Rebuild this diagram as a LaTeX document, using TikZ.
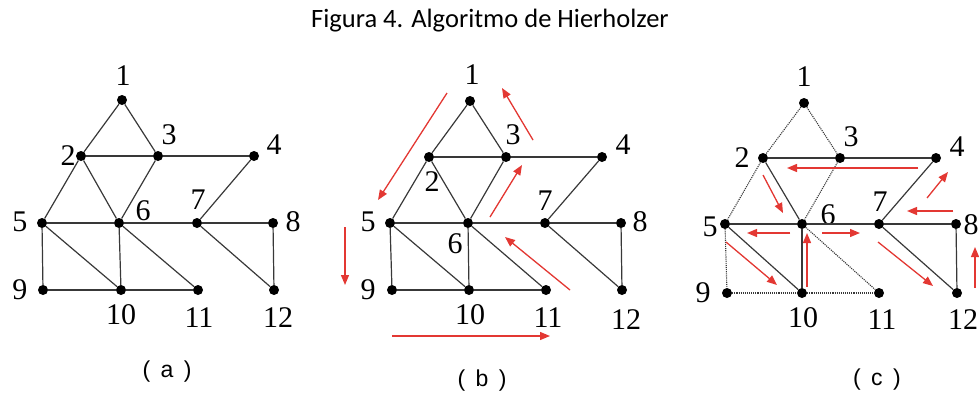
\documentclass[tikz,border=0pt]{standalone}
\usepackage{fontspec}
\setmainfont{Liberation Serif}
\newfontfamily\capfont{Liberation Sans}
\newfontfamily\titlefont{Carlito}
\usepackage{tikz}
\usetikzlibrary{arrows.meta}
\definecolor{ed}{rgb}{0.22,0.22,0.22}
\definecolor{ar}{rgb}{0.89,0.22,0.20}

\begin{document}
\begin{tikzpicture}[
  x=1pt, y=-1pt,
  %% vertex and label styles
  vtx/.style   = {circle, fill=black, inner sep=0pt, minimum size=10pt},
  num/.style   = {inner sep=0pt, font=\fontsize{30}{30}\selectfont},
  panel/.style = {inner sep=0pt, font=\capfont\fontsize{23}{23}\selectfont},
  %% edges
  link/.style  = {draw=ed, line width=1.2pt},
  gone/.style  = {draw=ed, line width=1.1pt, densely dotted},
  %% red arrows
  rarr/.style  = {-{Triangle[length=10pt,width=8pt]}, draw=ar, fill=ar,
                  line width=1.3pt}
]
\useasboundingbox (0,0) rectangle (979,392);

%% ---- Title ----
\node[inner sep=0pt, font=\titlefont\fontsize{26.5}{26.5}\selectfont] (TIT)
  at (490,21) {Figura 4. Algoritmo de Hierholzer};

%% ---- (a) vertices ----
\node[vtx] (a1)  at (122,100) {};
\node[vtx] (a2)  at (81,156)  {};
\node[vtx] (a3)  at (158,156) {};
\node[vtx] (a4)  at (254,156) {};
\node[vtx] (a5)  at (42,223)  {};
\node[vtx] (a6)  at (119,223) {};
\node[vtx] (a7)  at (197,223) {};
\node[vtx] (a8)  at (273,223) {};
\node[vtx] (a9)  at (43,290)  {};
\node[vtx] (a10) at (121,290) {};
\node[vtx] (a11) at (198,290) {};
\node[vtx] (a12) at (274,290) {};

%% ---- (a) labels ----
\node[num] (la1)  at (123,76)  {1};
\node[num] (la2)  at (68,156)  {2};
\node[num] (la3)  at (169,135) {3};
\node[num] (la4)  at (274,145) {4};
\node[num] (la5)  at (20,222)  {5};
\node[num] (la6)  at (143,211) {6};
\node[num] (la7)  at (198,200) {7};
\node[num] (la8)  at (293,222) {8};
\node[num] (la9)  at (20,290)  {9};
\node[num] (la10) at (121,315) {10};
\node[num] (la11) at (199,318) {11};
\node[num] (la12) at (278,318) {12};
\node[panel] (capa) at (167,372) {(\hspace{4pt} a \hspace{4pt})};

%% ---- (a) edges ----
\draw[link] (a1) -- (a2);
\draw[link] (a1) -- (a3);
\draw[link] (a2) -- (a3);
\draw[link] (a3) -- (a4);
\draw[link] (a2) -- (a5);
\draw[link] (a2) -- (a6);
\draw[link] (a3) -- (a6);
\draw[link] (a4) -- (a7);
\draw[link] (a5) -- (a6);
\draw[link] (a6) -- (a7);
\draw[link] (a7) -- (a8);
\draw[link] (a5) -- (a9);
\draw[link] (a5) -- (a10);
\draw[link] (a6) -- (a10);
\draw[link] (a6) -- (a11);
\draw[link] (a7) -- (a12);
\draw[link] (a8) -- (a12);
\draw[link] (a9) -- (a10);
\draw[link] (a10) -- (a11);

%% ---- (b) vertices ----
\node[vtx] (b1)  at (470,101) {};
\node[vtx] (b2)  at (429,157) {};
\node[vtx] (b3)  at (506,157) {};
\node[vtx] (b4)  at (602,157) {};
\node[vtx] (b5)  at (390,223) {};
\node[vtx] (b6)  at (468,223) {};
\node[vtx] (b7)  at (545,223) {};
\node[vtx] (b8)  at (621,223) {};
\node[vtx] (b9)  at (392,290) {};
\node[vtx] (b10) at (469,290) {};
\node[vtx] (b11) at (546,290) {};
\node[vtx] (b12) at (622,290) {};

%% ---- (b) labels ----
\node[num] (lb1)  at (472,75)  {1};
\node[num] (lb2)  at (432,182) {2};
\node[num] (lb3)  at (513,135) {3};
\node[num] (lb4)  at (623,145) {4};
\node[num] (lb5)  at (368,222) {5};
\node[num] (lb6)  at (455,244) {6};
\node[num] (lb7)  at (545,201) {7};
\node[num] (lb8)  at (640,222) {8};
\node[num] (lb9)  at (368,290) {9};
\node[num] (lb10) at (470,315) {10};
\node[num] (lb11) at (548,318) {11};
\node[num] (lb12) at (626,320) {12};
\node[panel] (capb) at (482,381) {(\hspace{4pt} b \hspace{4pt})};

%% ---- (b) edges ----
\draw[link] (b1) -- (b2);
\draw[link] (b1) -- (b3);
\draw[link] (b2) -- (b3);
\draw[link] (b3) -- (b4);
\draw[link] (b2) -- (b5);
\draw[link] (b2) -- (b6);
\draw[link] (b3) -- (b6);
\draw[link] (b4) -- (b7);
\draw[link] (b5) -- (b6);
\draw[link] (b6) -- (b7);
\draw[link] (b7) -- (b8);
\draw[link] (b5) -- (b9);
\draw[link] (b5) -- (b10);
\draw[link] (b6) -- (b10);
\draw[link] (b6) -- (b11);
\draw[link] (b7) -- (b12);
\draw[link] (b8) -- (b12);
\draw[link] (b9) -- (b10);
\draw[link] (b10) -- (b11);

%% ---- (b) walk arrows ----
\coordinate (pb1s) at (447,93);   \coordinate (pb1e) at (378,200);
\coordinate (pb2s) at (533,140);  \coordinate (pb2e) at (502,88);
\coordinate (pb3s) at (345,227);  \coordinate (pb3e) at (345,285);
\coordinate (pb4s) at (490,217);  \coordinate (pb4e) at (522,165);
\coordinate (pb5s) at (570,290);  \coordinate (pb5e) at (505,237);
\coordinate (pb6s) at (392,336);  \coordinate (pb6e) at (550,336);
\draw[rarr] (pb1s) -- (pb1e);
\draw[rarr] (pb2s) -- (pb2e);
\draw[rarr] (pb3s) -- (pb3e);
\draw[rarr] (pb4s) -- (pb4e);
\draw[rarr] (pb5s) -- (pb5e);
\draw[rarr] (pb6s) -- (pb6e);

%% ---- (c) vertices ----
\node[vtx] (c1)  at (804,103) {};
\node[vtx] (c2)  at (763,158) {};
\node[vtx] (c3)  at (840,158) {};
\node[vtx] (c4)  at (936,158) {};
\node[vtx] (c5)  at (725,224) {};
\node[vtx] (c6)  at (802,224) {};
\node[vtx] (c7)  at (879,224) {};
\node[vtx] (c8)  at (956,224) {};
\node[vtx] (c9)  at (727,293) {};
\node[vtx] (c10) at (802,293) {};
\node[vtx] (c11) at (879,293) {};
\node[vtx] (c12) at (957,293) {};

%% ---- (c) labels ----
\node[num] (lc1)  at (804,77)  {1};
\node[num] (lc2)  at (742,158) {2};
\node[num] (lc3)  at (851,137) {3};
\node[num] (lc4)  at (957,147) {4};
\node[num] (lc5)  at (710,227) {5};
\node[num] (lc6)  at (828,215) {6};
\node[num] (lc7)  at (880,202) {7};
\node[num] (lc8)  at (971,225) {8};
\node[num] (lc9)  at (703,293) {9};
\node[num] (lc10) at (803,318) {10};
\node[num] (lc11) at (882,320) {11};
\node[num] (lc12) at (963,320) {12};
\node[panel] (capc) at (877,380) {(\hspace{4pt} c \hspace{4pt})};

%% ---- (c) edges: kept solid, used dotted ----
\draw[link] (c2) -- (c3);
\draw[link] (c3) -- (c4);
\draw[link] (c2) -- (c6);
\draw[link] (c4) -- (c7);
\draw[link] (c5) -- (c6);
\draw[link] (c6) -- (c7);
\draw[link] (c7) -- (c8);
\draw[link] (c5) -- (c10);
\draw[link] (c6) -- (c10);
\draw[link] (c7) -- (c12);
\draw[link] (c8) -- (c12);
\draw[gone] (c1) -- (c2);
\draw[gone] (c1) -- (c3);
\draw[gone] (c2) -- (c5);
\draw[gone] (c3) -- (c6);
\draw[gone] (c5) -- (c9);
\draw[gone] (c9) -- (c10);
\draw[gone] (c10) -- (c11);
\draw[gone] (c6) -- (c11);

%% ---- (c) walk arrows ----
\coordinate (pc1s)  at (918,168); \coordinate (pc1e)  at (787,168);
\coordinate (pc2s)  at (763,175); \coordinate (pc2e)  at (783,213);
\coordinate (pc3s)  at (927,198); \coordinate (pc3e)  at (948,172);
\coordinate (pc4s)  at (953,211); \coordinate (pc4e)  at (907,211);
\coordinate (pc5s)  at (790,233); \coordinate (pc5e)  at (747,233);
\coordinate (pc6s)  at (822,233); \coordinate (pc6e)  at (860,233);
\coordinate (pc7s)  at (807,287); \coordinate (pc7e)  at (807,233);
\coordinate (pc8s)  at (726,242); \coordinate (pc8e)  at (777,285);
\coordinate (pc9s)  at (878,242); \coordinate (pc9e)  at (933,286);
\coordinate (pc10s) at (975,288); \coordinate (pc10e) at (975,247);
\draw[rarr] (pc1s) -- (pc1e);
\draw[rarr] (pc2s) -- (pc2e);
\draw[rarr] (pc3s) -- (pc3e);
\draw[rarr] (pc4s) -- (pc4e);
\draw[rarr] (pc5s) -- (pc5e);
\draw[rarr] (pc6s) -- (pc6e);
\draw[rarr] (pc7s) -- (pc7e);
\draw[rarr] (pc8s) -- (pc8e);
\draw[rarr] (pc9s) -- (pc9e);
\draw[rarr] (pc10s) -- (pc10e);

\end{tikzpicture}
\end{document}
